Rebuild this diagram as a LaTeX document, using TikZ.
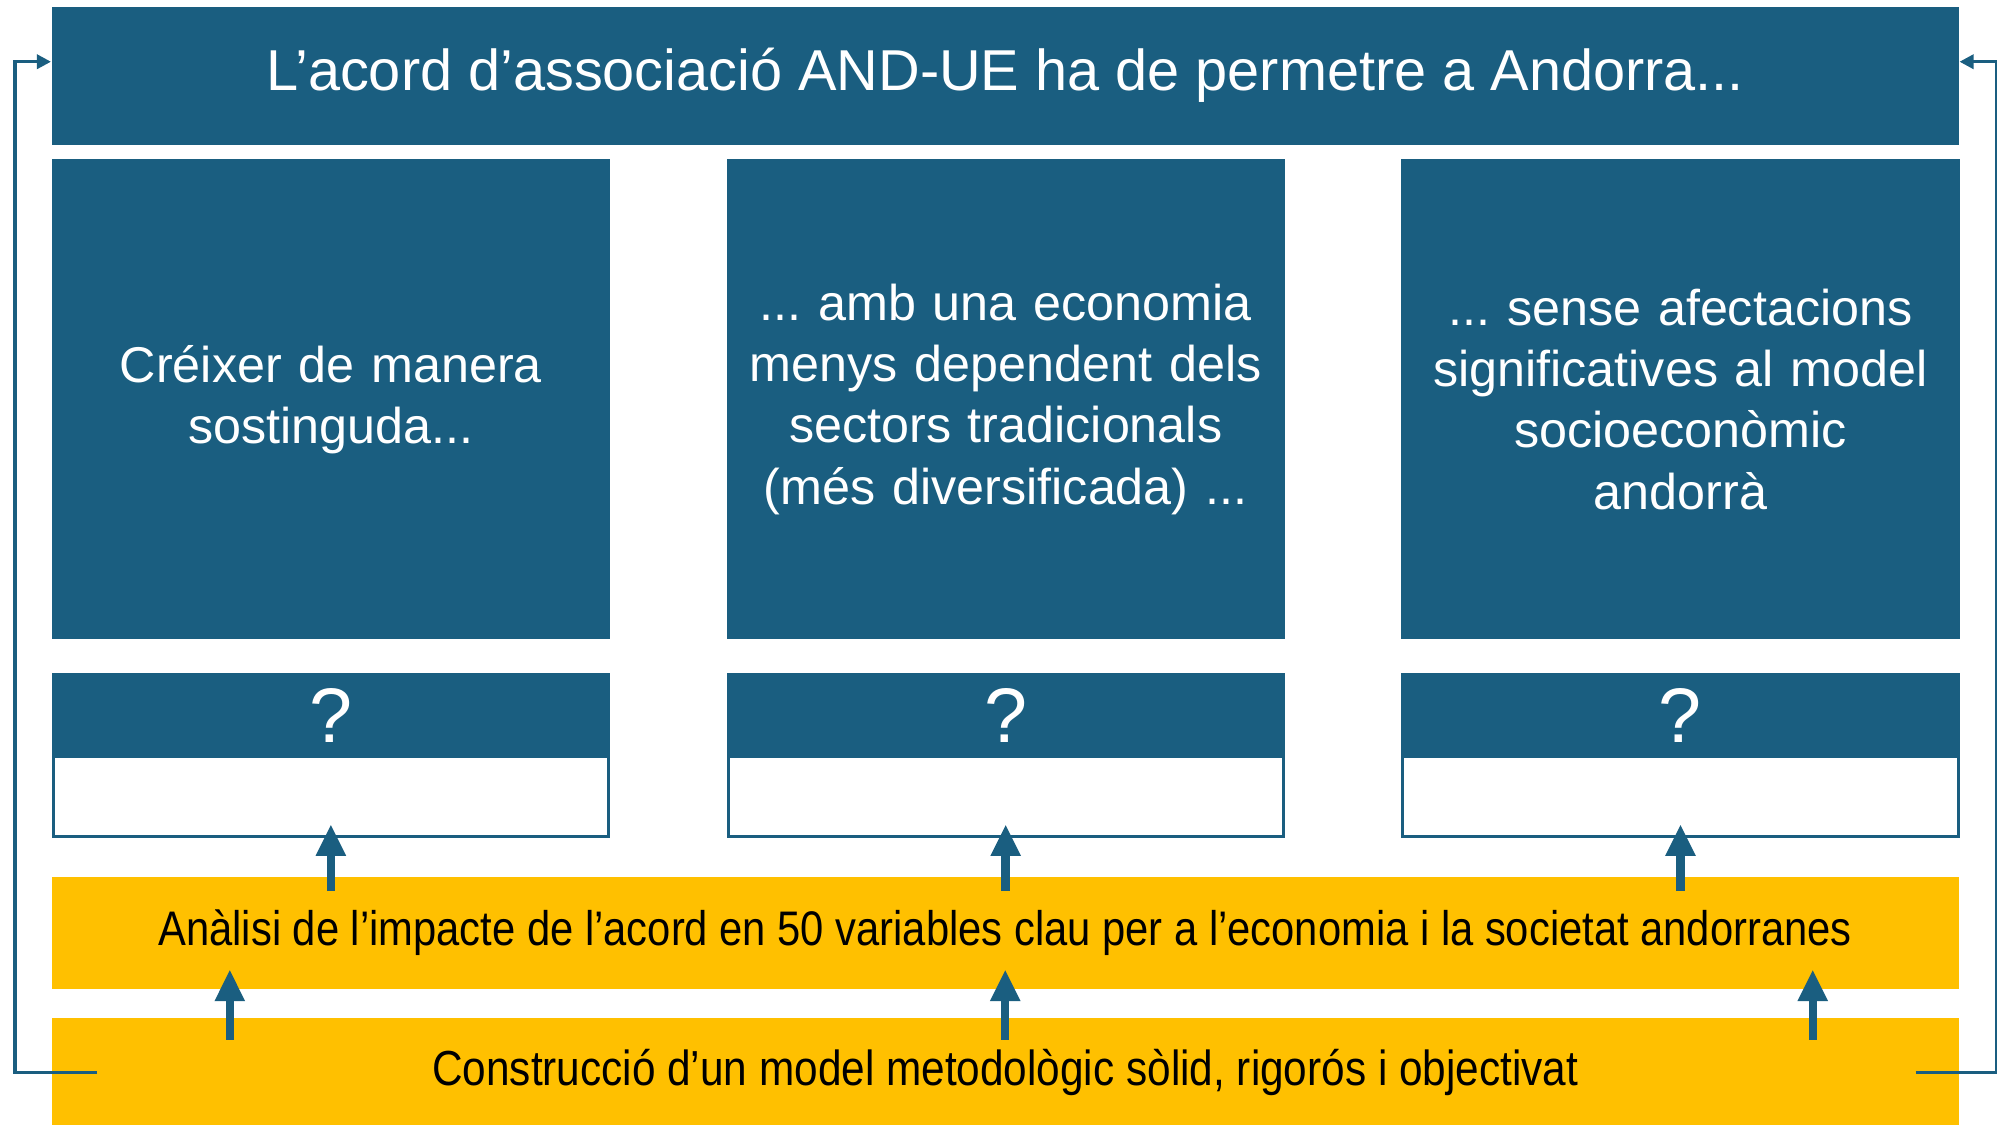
\documentclass[tikz,border=0pt]{standalone}
\usepackage{fontspec}
\setmainfont{Liberation Sans}
\newfontfamily\narrowfont[FakeStretch=0.86]{Liberation Sans}
\usetikzlibrary{arrows.meta,positioning,calc}
\definecolor{andblue}{RGB}{26,94,128}
\definecolor{andgold}{RGB}{255,192,0}
\frenchspacing

\begin{document}
\begin{tikzpicture}[x=0.01cm, y=-0.01cm,
  head/.style={fill=andblue, text=white, inner sep=0pt, font=\fontsize{14.3}{17.4}\selectfont},
  tall/.style={head, minimum width=5.58cm, minimum height=4.8cm, text width=5.5cm, align=center},
  qhead/.style={head, minimum width=5.58cm, minimum height=0.84cm, font=\fontsize{22}{24}\selectfont},
  qbody/.style={draw=andblue, line width=0.85pt, fill=white, minimum width=5.55cm, minimum height=1.62cm, inner sep=0pt},
  band/.style={fill=andgold, inner sep=0pt, minimum width=19.06cm, font=\narrowfont\fontsize{14}{16}\selectfont},
  up/.style={draw=andblue, line width=2.4pt, -{Triangle[length=9pt, width=8pt]}},
  fb/.style={draw=andblue, line width=0.95pt, -{Triangle[length=4pt, width=4pt]}}]
\useasboundingbox (0,0) rectangle (1997,1125);
\node[head, minimum width=19.06cm, minimum height=1.38cm, anchor=north west, font=\fontsize{16.4}{19}\selectfont] (ttl) at (51,6) {L’acord d’associació AND-UE ha de permetre a Andorra...};
\node[tall, below right=0.13cm and 0cm of ttl.south west] (g1) {Créixer de manera\\sostinguda...};
\node[tall, right=1.15cm of g1] (g2) {... amb una economia\\menys dependent dels\\sectors tradicionals\\(més diversificada) ...};
\node[tall, right=1.15cm of g2] (g3) {... sense afectacions\\significatives al model\\socioeconòmic\\andorrà};
\foreach \i in {1,2,3} {
  \node[qbody, below=0.33cm of g\i] (q\i) {};
  \node[qhead, anchor=north] (qh\i) at (q\i.north) {?};
}
\node[band, minimum height=1.12cm, anchor=north west, font=\narrowfont\fontsize{13.8}{16}\selectfont] (an) at (51,876) {Anàlisi de l’impacte de l’acord en 50 variables clau per a l’economia i la societat andorranes};
\node[band, minimum height=1.09cm, below=0.28cm of an] (mo) {Construcció d’un model metodològic sòlid, rigorós i objectivat};
% fletxes cap amunt
\foreach \i in {1,2,3} \draw[up] ([yshift=-0.15cm]an.north -| q\i.south) -- ([yshift=0.14cm]q\i.south);
\foreach \dx in {-7.75,0,8.07} \draw[up] ([xshift=\dx cm, yshift=-0.22cm]mo.north) -- ([xshift=\dx cm, yshift=0.2cm]an.south);
% retorn cap al titol
\draw[fb] ([xshift=0.46cm]mo.west) -| ([xshift=-0.36cm, yshift=0.14cm]ttl.west) -- ([yshift=0.14cm]ttl.west);
\draw[fb] ([xshift=-0.44cm]mo.east) -| ([xshift=0.37cm, yshift=0.14cm]ttl.east) -- ([yshift=0.14cm]ttl.east);
\end{tikzpicture}
\end{document}
